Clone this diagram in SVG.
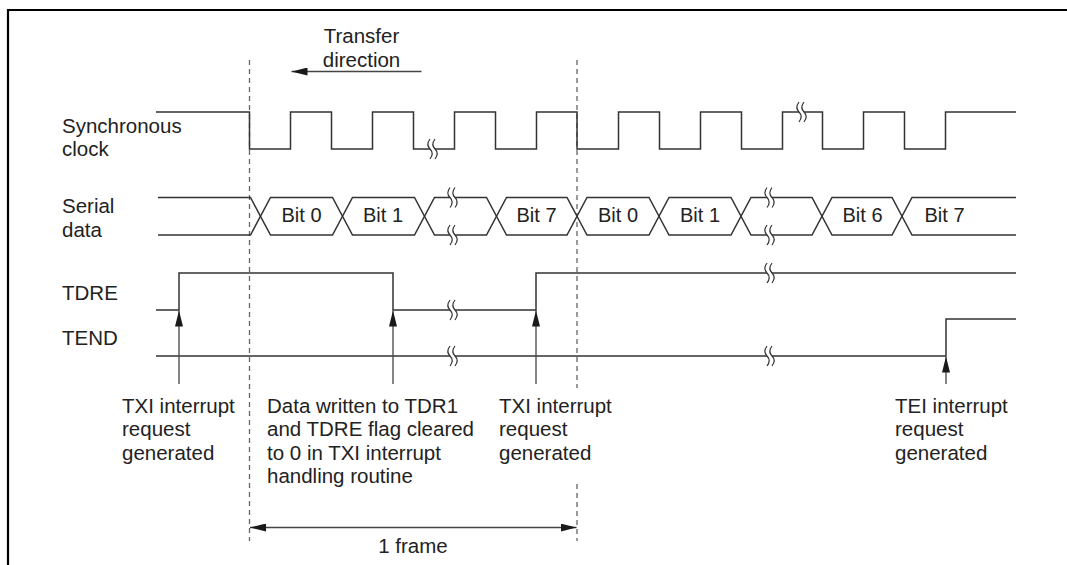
<svg xmlns="http://www.w3.org/2000/svg" xmlns:xlink="http://www.w3.org/1999/xlink" width="1067" height="565" viewBox="0 0 1067 565">
<style>
  text { font-family: "Liberation Sans", Arial, sans-serif; font-size: 20.5px; fill: #222; }
  .mid { text-anchor: middle; }
  .bit { font-size: 20px; }
  .wave { fill: none; stroke: #333; stroke-width: 1.5; stroke-linejoin: miter; }
  .arr { fill: none; stroke: #444; stroke-width: 1.3; }
  .dash { fill: none; stroke: #666; stroke-width: 1.3; stroke-dasharray: 5 4; }
  .frame { fill: none; stroke: #000; stroke-width: 2.2; }
  .brkc { fill: none; stroke: #333; stroke-width: 1.2; }
</style>
<defs>
  <marker id="ah" markerUnits="userSpaceOnUse" markerWidth="16" markerHeight="8" refX="16" refY="4" orient="auto-start-reverse" viewBox="0 0 16 8">
    <path d="M0,0 L16,4 L0,8 z" fill="#1a1a1a"/>
  </marker>
  <g id="brk">
    <path d="M-3,-10 C-6,-6 -6,-3 -3,0 C0,3 0,6 -3,10 L2,10 C5,6 5,3 2,0 C-1,-3 -1,-6 2,-10 Z" fill="#fff" stroke="none"/>
    <path class="brkc" d="M-3,-10 C-6,-6 -6,-3 -3,0 C0,3 0,6 -3,10"/>
    <path class="brkc" d="M2,-10 C-1,-6 -1,-3 2,0 C5,3 5,6 2,10"/>
  </g>
</defs>

<g id="border">
  <path class="frame" d="M8,565 V10 H1067"/>
</g>

<g id="dashed-markers">
  <line class="dash" x1="249.5" y1="60" x2="249.5" y2="541"/>
  <line class="dash" x1="577" y1="60" x2="577" y2="388"/>
  <line class="dash" x1="577" y1="484" x2="577" y2="541"/>
</g>

<g id="transfer-direction">
  <text class="mid" x="361.5" y="43">Transfer</text>
  <text class="mid" x="361.5" y="67">direction</text>
</g>

<g id="sync-clock">
  <text x="62" y="133">Synchronous</text>
  <text x="62" y="156">clock</text>
  <path class="wave" d="M156,112 H249.5 V149 H290.5 V112 H331.5 V149 H372.5 V112 H413.5 V149 H454.5 V112 H495.5 V149 H536.5 V112 H577 V149 H618.5 V112 H659.5 V149 H700.5 V112 H741.5 V149 H782.5 V112 H822.5 V149 H863.5 V112 H904.5 V149 H945.5 V112 H1016"/>
  <use xlink:href="#brk" href="#brk" x="433" y="149"/>
  <use xlink:href="#brk" href="#brk" x="802" y="112"/>
</g>

<g id="serial-data">
  <text x="62" y="213">Serial</text>
  <text x="62" y="236.5">data</text>
  <path class="wave" d="M158,197.5 H250.5 L270.5,235 H332.5 L352.5,197.5 H414.5 L434.5,235 H486.5 L506.5,197.5 H567 L587,235 H649 L669,197.5 H731 L751,235 H812 L832,197.5 H892 L912,235 H1016"/>
  <path class="wave" d="M158,235 H250.5 L270.5,197.5 H332.5 L352.5,235 H414.5 L434.5,197.5 H486.5 L506.5,235 H567 L587,197.5 H649 L669,235 H731 L751,197.5 H812 L832,235 H892 L912,197.5 H1016"/>
  <use xlink:href="#brk" href="#brk" x="453" y="197.5"/>
  <use xlink:href="#brk" href="#brk" x="453" y="235"/>
  <use xlink:href="#brk" href="#brk" x="770" y="197.5"/>
  <use xlink:href="#brk" href="#brk" x="770" y="235"/>
  <text class="mid bit" x="301.5" y="222">Bit 0</text>
  <text class="mid bit" x="383" y="222">Bit 1</text>
  <text class="mid bit" x="536.5" y="222">Bit 7</text>
  <text class="mid bit" x="618" y="222">Bit 0</text>
  <text class="mid bit" x="700" y="222">Bit 1</text>
  <text class="mid bit" x="862.5" y="222">Bit 6</text>
  <text class="mid bit" x="944.5" y="222">Bit 7</text>
</g>

<g id="tdre">
  <text x="62" y="299.5">TDRE</text>
  <path class="wave" d="M156,310 H179 V273 H393 V310 H536 V273 H1016"/>
  <use xlink:href="#brk" href="#brk" x="453" y="310"/>
  <use xlink:href="#brk" href="#brk" x="770" y="273"/>
</g>

<g id="tend">
  <text x="62" y="345">TEND</text>
  <path class="wave" d="M156,356 H946 V319 H1016"/>
  <use xlink:href="#brk" href="#brk" x="453" y="356"/>
  <use xlink:href="#brk" href="#brk" x="770" y="356"/>
</g>

<g id="connectors">
  <line class="arr" x1="421.5" y1="71.5" x2="291.5" y2="71.5" marker-end="url(#ah)"/>
  <line class="arr" x1="179" y1="384" x2="179" y2="310.5" marker-end="url(#ah)"/>
  <line class="arr" x1="393" y1="384" x2="393" y2="310.5" marker-end="url(#ah)"/>
  <line class="arr" x1="536" y1="384" x2="536" y2="310.5" marker-end="url(#ah)"/>
  <line class="arr" x1="946" y1="384" x2="946" y2="356.5" marker-end="url(#ah)"/>
  <line class="arr" x1="250" y1="527.5" x2="576.5" y2="527.5" marker-start="url(#ah)" marker-end="url(#ah)"/>
</g>

<g id="label-txi-1">
  <text x="122" y="412.5">TXI interrupt</text>
  <text x="122" y="436">request</text>
  <text x="122" y="459.5">generated</text>
</g>

<g id="label-data-written">
  <text x="267" y="412.5">Data written to TDR1</text>
  <text x="267" y="436">and TDRE flag cleared</text>
  <text x="267" y="459.5">to 0 in TXI interrupt</text>
  <text x="267" y="483">handling routine</text>
</g>

<g id="label-txi-2">
  <text x="499" y="412.5">TXI interrupt</text>
  <text x="499" y="436">request</text>
  <text x="499" y="459.5">generated</text>
</g>

<g id="label-tei">
  <text x="895" y="412.5">TEI interrupt</text>
  <text x="895" y="436">request</text>
  <text x="895" y="459.5">generated</text>
</g>

<g id="label-frame">
  <text class="mid" x="413" y="553">1 frame</text>
</g>
</svg>
